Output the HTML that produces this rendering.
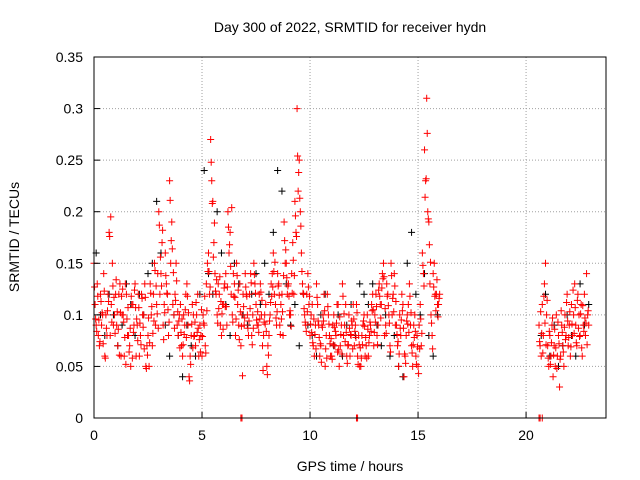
<!DOCTYPE html>
<html><head><meta charset="utf-8"><style>
html,body{margin:0;padding:0;background:#fff;}
svg{display:block;font-family:"Liberation Sans",sans-serif;}
</style></head><body>
<svg id="chart" width="640" height="480" viewBox="0 0 640 480" xmlns="http://www.w3.org/2000/svg">
<rect x="0" y="0" width="640" height="480" fill="#fff"/>
<g id="grid"></g>
<g id="marks"></g>
<rect x="94" y="57" width="512" height="361" fill="none" stroke="#000" stroke-width="1"/>
<g id="ticks" font-size="14" fill="#000"></g>
<text x="350" y="32" font-size="14" text-anchor="middle">Day 300 of 2022, SRMTID for receiver hydn</text>
<text x="350" y="471" font-size="14" text-anchor="middle">GPS time / hours</text>
<text x="19" y="237" font-size="14" text-anchor="middle" transform="rotate(-90 19 237)">SRMTID / TECUs</text>
</svg>
<script>
const xTicks=[0,5,10,15,20];
const yTicks=[0,0.05,0.1,0.15,0.2,0.25,0.3,0.35];
const yTickLabels=["0","0.05","0.1","0.15","0.2","0.25","0.3","0.35"];
const redAStart=0.0, redAStep=0.1;
const redA=[0.15,0.09,0.08,0.12,0.10,0.06,0.08,0.18,0.11,0.09,
0.12,0.07,0.13,0.10,0.06,0.12,0.08,0.05,0.11,0.13,
0.09,0.06,0.12,0.10,0.05,0.08,0.13,0.07,0.15,0.11,
0.20,0.14,0.09,0.16,0.12,0.23,0.19,0.10,0.15,0.08,
0.11,0.06,0.09,0.13,0.04,0.08,0.10,0.07,0.12,0.09,
0.06,0.09,0.13,0.16,0.27,0.21,0.14,0.10,0.12,0.08,
0.11,0.14,0.20,0.18,0.10,0.13,0.15,0.09,0.07,0.12,
0.14,0.10,0.12,0.08,0.15,0.11,0.09,0.13,0.07,0.10,
0.05,0.08,0.13,0.16,0.11,0.14,0.09,0.12,0.19,0.15,
0.13,0.10,0.17,0.21,0.30,0.25,0.16,0.12,0.09,0.14,
0.08,0.11,0.06,0.13,0.09,0.07,0.10,0.05,0.12,0.08,
0.06,0.10,0.08,0.11,0.07,0.13,0.09,0.06,0.10,0.08,
0.11,0.09,0.06,0.05,0.08,0.10,0.07,0.06,0.09,0.12,
0.10,0.08,0.13,0.11,0.15,0.09,0.12,0.07,0.10,0.14,
0.09,0.05,0.08,0.11,0.06,0.10,0.13,0.07,0.09,0.06,
0.05,0.11,0.16,0.26,0.31,0.19,0.10,0.14,0.12,0.11,0.12];
const redBStart=0.05, redBStep=0.1;
const redB=[0.11,0.13,0.07,0.09,0.14,0.10,0.12,0.08,0.15,0.10,
0.09,0.12,0.06,0.10,0.13,0.08,0.07,0.11,0.09,0.06,
0.12,0.08,0.10,0.13,0.07,0.05,0.10,0.12,0.09,0.14,
0.12,0.17,0.11,0.13,0.08,0.15,0.11,0.12,0.09,0.10,
0.07,0.10,0.12,0.09,0.06,0.11,0.08,0.10,0.06,0.08,
0.10,0.07,0.15,0.12,0.23,0.17,0.12,0.13,0.09,0.11,
0.13,0.09,0.16,0.12,0.14,0.08,0.11,0.13,0.10,0.09,
0.12,0.08,0.14,0.10,0.13,0.09,0.12,0.10,0.08,0.11,
0.07,0.10,0.14,0.12,0.09,0.13,0.11,0.08,0.15,0.12,
0.10,0.14,0.12,0.18,0.22,0.20,0.13,0.10,0.12,0.11,
0.10,0.07,0.09,0.11,0.06,0.09,0.12,0.08,0.10,0.06,
0.09,0.07,0.11,0.05,0.09,0.08,0.11,0.07,0.06,0.09,
0.07,0.11,0.08,0.05,0.09,0.06,0.10,0.08,0.11,0.07,
0.12,0.09,0.11,0.14,0.08,0.13,0.10,0.15,0.12,0.09,
0.07,0.10,0.12,0.04,0.08,0.11,0.09,0.05,0.10,0.08,
0.09,0.07,0.14,0.23,0.20,0.13,0.08,0.15,0.12,0.11];
const redEStart=0.025, redEStep=0.1;
const redE=[0.127,0.084,0.095,0.113,0.072,0.058,0.104,0.176,0.093,0.117,
0.134,0.086,0.102,0.125,0.078,0.096,0.064,0.118,0.083,0.107,
0.075,0.092,0.116,0.067,0.048,0.097,0.121,0.082,0.143,0.101,
0.187,0.128,0.076,0.138,0.105,0.211,0.164,0.087,0.133,0.094,
0.083,0.071,0.105,0.118,0.036,0.091,0.079,0.112,0.087,0.064,
0.079,0.118,0.104,0.142,0.248,0.156,0.123,0.092,0.137,0.101,
0.126,0.108,0.185,0.147,0.093,0.117,0.138,0.076,0.089,0.108,
0.127,0.087,0.106,0.071,0.139,0.095,0.083,0.122,0.046,0.091,
0.042,0.094,0.118,0.142,0.097,0.128,0.081,0.103,0.172,0.136,
0.118,0.089,0.153,0.196,0.254,0.213,0.142,0.106,0.084,0.127,
0.091,0.073,0.081,0.117,0.078,0.054,0.094,0.067,0.108,0.072,
0.057,0.088,0.092,0.066,0.081,0.118,0.074,0.053,0.087,0.094,
0.096,0.078,0.052,0.068,0.071,0.089,0.058,0.073,0.084,0.105,
0.093,0.071,0.118,0.126,0.137,0.082,0.109,0.064,0.116,0.128,
0.081,0.062,0.095,0.087,0.053,0.091,0.118,0.063,0.078,0.052,
0.043,0.096,0.148,0.214,0.276,0.168,0.092,0.127,0.104,0.098];
const redFStart=0.075, redFStep=0.1;
const redF=[0.096,0.118,0.074,0.102,0.123,0.087,0.113,0.195,0.128,0.082,
0.103,0.061,0.118,0.093,0.052,0.107,0.087,0.058,0.124,0.096,
0.107,0.071,0.088,0.117,0.061,0.073,0.108,0.094,0.128,0.087,
0.156,0.182,0.102,0.121,0.093,0.172,0.141,0.114,0.103,0.068,
0.096,0.081,0.078,0.102,0.052,0.068,0.093,0.083,0.076,0.105,
0.092,0.063,0.142,0.127,0.208,0.189,0.134,0.106,0.113,0.086,
0.108,0.127,0.168,0.204,0.118,0.096,0.124,0.103,0.041,0.097,
0.118,0.094,0.131,0.087,0.121,0.103,0.096,0.114,0.093,0.084,
0.061,0.112,0.127,0.151,0.103,0.119,0.096,0.138,0.163,0.128,
0.104,0.121,0.138,0.176,0.238,0.186,0.121,0.093,0.103,0.118,
0.083,0.096,0.067,0.094,0.072,0.088,0.104,0.058,0.091,0.077,
0.071,0.084,0.064,0.098,0.062,0.101,0.083,0.071,0.081,0.067,
0.084,0.102,0.071,0.058,0.094,0.078,0.086,0.093,0.104,0.083,
0.108,0.124,0.097,0.135,0.106,0.118,0.092,0.138,0.103,0.113,
0.074,0.087,0.104,0.062,0.094,0.083,0.102,0.071,0.084,0.069,
0.067,0.082,0.128,0.232,0.193,0.151,0.067,0.118,0.134,0.116];
const redCStart=20.6, redCStep=0.05;
const redC=[0.09,0.07,0.06,0.11,0.08,0.13,0.15,0.10,0.07,0.05,0.08,0.06,0.09,0.04,0.07,0.05,0.10,0.06,0.08,0.03,0.06,0.09,0.07,0.05,0.10,0.08,0.12,0.07,0.09,0.06,0.11,0.08,0.10,0.13,0.09,0.07,0.12,0.10,0.08,0.11,0.06,0.09,0.12,0.08,0.14,0.10,0.09];
const redDStart=20.625, redDStep=0.05;
const redD=[0.074,0.103,0.082,0.063,0.118,0.092,0.071,0.114,0.058,0.084,0.052,0.073,0.097,0.061,0.086,0.068,0.048,0.093,0.072,0.057,0.104,0.083,0.064,0.088,0.076,0.112,0.094,0.078,0.103,0.069,0.091,0.124,0.082,0.107,0.073,0.114,0.087,0.079,0.101,0.068,0.109,0.084,0.097,0.092,0.071,0.104];
const blackAStart=0.1, blackAStep=0.2;
const blackA=[0.16,0.10,0.08,0.12,0.10,0.07,0.09,0.13,0.11,0.08,
0.12,0.10,0.14,0.15,0.21,0.16,0.09,0.06,0.10,0.08,
0.04,0.09,0.07,0.06,0.12,0.24,0.14,0.12,0.20,0.16,
0.11,0.08,0.15,0.13,0.10,0.09,0.12,0.14,0.11,0.15,
0.12,0.18,0.24,0.22,0.13,0.09,0.11,0.07,0.12,0.09,
0.08,0.06,0.10,0.12,0.08,0.07,0.10,0.06,0.09,0.11,
0.08,0.13,0.12,0.11,0.13,0.09,0.07,0.10,0.06,0.08,
0.05,0.04,0.15,0.18,0.12,0.10,0.14,0.08,0.06,0.10];
const blackBStart=20.7, blackBStep=0.2;
const blackB=[0.08,0.12,0.06,0.09,0.05,0.07,0.10,0.08,0.06,0.13,0.09,0.11];
const zeroTimes=[6.8,6.85,12.15,12.2,20.6,20.65,20.75];

const NS="http://www.w3.org/2000/svg";
const X0=94,X1=606,Y0=418,Y1=57,XMAX=23.7,YMAX=0.35;
function xs(v){return X0+(v/XMAX)*(X1-X0);}
function ys(v){return Y0-(v/YMAX)*(Y0-Y1);}
const grid=document.getElementById('grid'),ticks=document.getElementById('ticks'),marks=document.getElementById('marks');
function mk(tag,attrs,parent){const e=document.createElementNS(NS,tag);for(const k in attrs)e.setAttribute(k,attrs[k]);parent.appendChild(e);return e;}
xTicks.forEach(t=>{const x=xs(t);
 if(t>0){const g=mk('line',{x1:x,x2:x,y1:Y1,y2:Y0,stroke:'#a0a0a0','stroke-dasharray':'1,2'},grid);
 
 }
 const tl=mk('line',{x1:x,x2:x,y1:Y0,y2:Y0-6,stroke:'#000'},ticks);
 
 
 const tx=mk('text',{x:x,y:Y0+22,'text-anchor':'middle'},ticks);tx.textContent=String(t);
 
 
});
yTicks.forEach((t,i)=>{const y=ys(t);
 if(i>0&&i<yTicks.length-1){const g=mk('line',{x1:X0,x2:X1,y1:y,y2:y,stroke:'#a0a0a0','stroke-dasharray':'1,2'},grid);
 
 }
 const tl=mk('line',{x1:X0,x2:X0+6,y1:y,y2:y,stroke:'#000'},ticks);
 
 
 const tx=mk('text',{x:X0-11,y:y+5,'text-anchor':'end'},ticks);tx.textContent=yTickLabels[i];
 
 
});
function plus(xv,yv,color,name){const x=xs(xv),y=ys(yv);
 const p=mk('path',{d:`M${x-3.5},${y}h7M${x},${y-3.5}v7`,stroke:color,'stroke-width':1,fill:'none'},marks);
 
 }
function series(start,step,vals,color,name){vals.forEach((v,i)=>plus(start+i*step,v,color,name));}
series(blackAStart,blackAStep,blackA,'#000','black-point');
series(blackBStart,blackBStep,blackB,'#000','black-point');
series(redAStart,redAStep,redA,'#f00','red-point');
series(redBStart,redBStep,redB,'#f00','red-point');
series(redEStart,redEStep,redE,'#f00','red-point');
series(redFStart,redFStep,redF,'#f00','red-point');
series(redCStart,redCStep,redC,'#f00','red-point');
series(redDStart,redDStep,redD,'#f00','red-point');
zeroTimes.forEach(t=>{plus(t,0,'#f00','zero-point');});
</script>
</body></html>
